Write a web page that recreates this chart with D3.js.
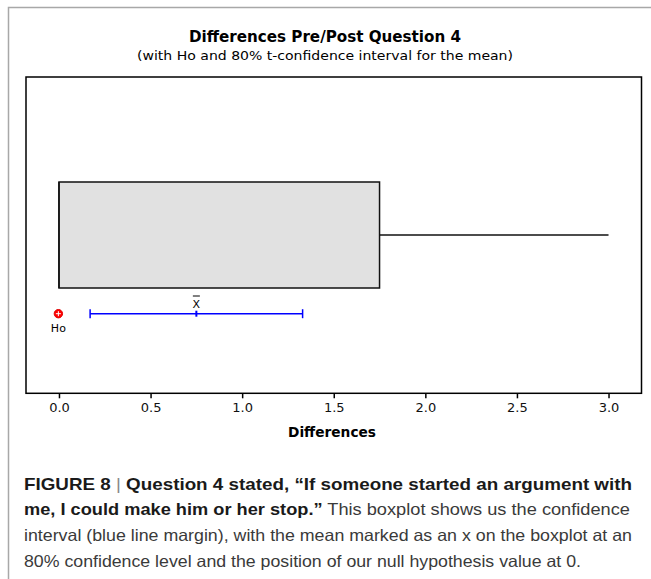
<!DOCTYPE html>
<meta charset="utf-8">
<style>
body { margin: 0; background: #fff; }
svg text { font-family: "DejaVu Sans", Verdana, sans-serif; }
.caption { font-family: "Liberation Sans", Arial, sans-serif; font-size: 16.5px; fill: #3a3a3a; }
.caption .b { font-weight: bold; fill: #1a1a1a; }
</style>
<svg width="651" height="579"></svg>
<script src="https://cdnjs.cloudflare.com/ajax/libs/d3/7.8.5/d3.min.js"></script>
<script>

// boxplot summary of the pre/post differences
var boxStats = [0, 0, 0, 1.75, 3];      // min, q1, median, q3, max
var meanValue = [0.75];
var ciBounds = [0.17, 1.33];            // 80% t-interval
var hoValue = [0];
var tickVals = [0, 0.5, 1, 1.5, 2, 2.5, 3];

var captionLines = [
  [["b", "FIGURE 8 "], ["s", "| "], ["b", "Question 4 stated, \u201cIf someone started an argument with"]],
  [["b", "me, I could make him or her stop.\u201d"], ["n", " This boxplot shows us the confidence"]],
  [["n", "interval (blue line margin), with the mean marked as an x on the boxplot at an"]],
  [["n", "80% confidence level and the position of our null hypothesis value at 0."]]
];

var svg = d3.select("svg");

// outer figure border (left + top only)
svg.append("path")
    .attr("d", "M8.5,579V7.5H651")
    .attr("fill", "none")
    .attr("stroke", "#a8a8a8")
    .attr("stroke-width", 1.5);

var frame = {left: 26, right: 641.5, top: 77, bottom: 393.3};

var x = d3.scaleLinear()
    .domain([-0.18, 3.18])
    .range([frame.left, frame.right]);

// titles
svg.append("text")
    .attr("x", 325).attr("y", 42)
    .attr("text-anchor", "middle")
    .style("font-weight", "bold")
    .style("font-size", "16px")
    .attr("textLength", 272).attr("lengthAdjust", "spacingAndGlyphs")
    .text("Differences Pre/Post Question 4");

svg.append("text")
    .attr("x", 325).attr("y", 59.5)
    .attr("text-anchor", "middle")
    .style("font-size", "13px")
    .attr("textLength", 376).attr("lengthAdjust", "spacingAndGlyphs")
    .text("(with Ho and 80% t-confidence interval for the mean)");

// plot frame
svg.append("rect")
    .attr("x", frame.left).attr("y", frame.top)
    .attr("width", frame.right - frame.left)
    .attr("height", frame.bottom - frame.top)
    .attr("fill", "none")
    .attr("stroke", "#000")
    .attr("stroke-width", 1.5);

// box
var boxTop = 182, boxBot = 288, boxMid = 235;

svg.append("line")
    .attr("x1", x(boxStats[3])).attr("x2", x(boxStats[4]))
    .attr("y1", boxMid).attr("y2", boxMid)
    .attr("stroke", "#111").attr("stroke-width", 1.5);

svg.append("line")
    .attr("x1", x(boxStats[0])).attr("x2", x(boxStats[1]))
    .attr("y1", boxMid).attr("y2", boxMid)
    .attr("stroke", "#111").attr("stroke-width", 1.5);

svg.append("rect")
    .attr("x", x(boxStats[1])).attr("y", boxTop)
    .attr("width", x(boxStats[3]) - x(boxStats[1]))
    .attr("height", boxBot - boxTop)
    .attr("fill", "#e1e1e1")
    .attr("stroke", "#111")
    .attr("stroke-width", 1.5);

svg.append("line")
    .attr("x1", x(boxStats[2])).attr("x2", x(boxStats[2]))
    .attr("y1", boxTop).attr("y2", boxBot)
    .attr("stroke", "#111").attr("stroke-width", 1.5);

// confidence interval
var ciY = 313.7;

svg.append("line")
    .attr("x1", x(ciBounds[0])).attr("x2", x(ciBounds[1]))
    .attr("y1", ciY).attr("y2", ciY)
    .attr("stroke", "#0000ff").attr("stroke-width", 1.5);

svg.selectAll(".cap")
    .data(ciBounds)
    .enter().append("line")
    .attr("x1", d => x(d)).attr("x2", d => x(d))
    .attr("y1", ciY - 4.5).attr("y2", ciY + 4.5)
    .attr("stroke", "#0000ff").attr("stroke-width", 1.5);

svg.selectAll(".meantick")
    .data(meanValue)
    .enter().append("line")
    .attr("x1", d => x(d)).attr("x2", d => x(d))
    .attr("y1", ciY - 3).attr("y2", ciY + 3)
    .attr("stroke", "#0000ff").attr("stroke-width", 2);

var meanLabel = svg.selectAll(".meanlab")
    .data(meanValue)
    .enter().append("g")
    .attr("transform", d => "translate(" + x(d) + ",0)");
meanLabel.append("text")
    .attr("y", 307.5)
    .attr("text-anchor", "middle")
    .style("font-size", "11px")
    .text("X");
meanLabel.append("line")
    .attr("x1", -3.5).attr("x2", 3.5)
    .attr("y1", 296).attr("y2", 296)
    .attr("stroke", "#000").attr("stroke-width", 1);

// null hypothesis marker
var ho = svg.selectAll(".ho")
    .data(hoValue)
    .enter().append("g")
    .attr("transform", d => "translate(" + (x(d) - 0.6) + "," + ciY + ")");
ho.append("circle")
    .attr("r", 4.2)
    .attr("fill", "#ff0000")
    .attr("stroke", "#e00000");
ho.append("path")
    .attr("d", "M-2.5,0H2.5M0,-2.5V2.5")
    .attr("stroke", "#fff").attr("stroke-width", 1);
ho.append("text")
    .attr("y", 18.5)
    .attr("text-anchor", "middle")
    .style("font-size", "11px")
    .text("Ho");

// x axis
var axis = svg.append("g")
    .attr("transform", "translate(0," + frame.bottom + ")")
    .call(d3.axisBottom(x)
        .tickValues(tickVals)
        .tickFormat(d3.format(".1f"))
        .tickSize(5)
        .tickSizeOuter(0));
axis.select(".domain").remove();
axis.selectAll(".tick line").attr("stroke", "#000").attr("stroke-width", 1.5);
axis.selectAll(".tick text")
    .attr("y", 9)
    .style("font-size", "13px")
    .style("font-family", "'DejaVu Sans', Verdana, sans-serif")
    .attr("fill", "#111");

svg.append("text")
    .attr("x", 332).attr("y", 436.5)
    .attr("text-anchor", "middle")
    .style("font-weight", "bold")
    .style("font-size", "13.5px")
    .attr("textLength", 88).attr("lengthAdjust", "spacingAndGlyphs")
    .text("Differences");

// figure caption
var capWidths = [608, 606, 608, 557];
captionLines.forEach(function(line, i) {
  var t = svg.append("text")
      .attr("class", "caption")
      .attr("x", 24)
      .attr("y", 489.5 + i * 25.7)
      .attr("textLength", capWidths[i])
      .attr("lengthAdjust", "spacingAndGlyphs");
  line.forEach(function(seg) {
    var ts = t.append("tspan").text(seg[1]);
    if (seg[0] === "b") ts.attr("class", "b");
    if (seg[0] === "s") ts.attr("fill", "#888").style("font-weight", "normal");
  });
});

</script>
